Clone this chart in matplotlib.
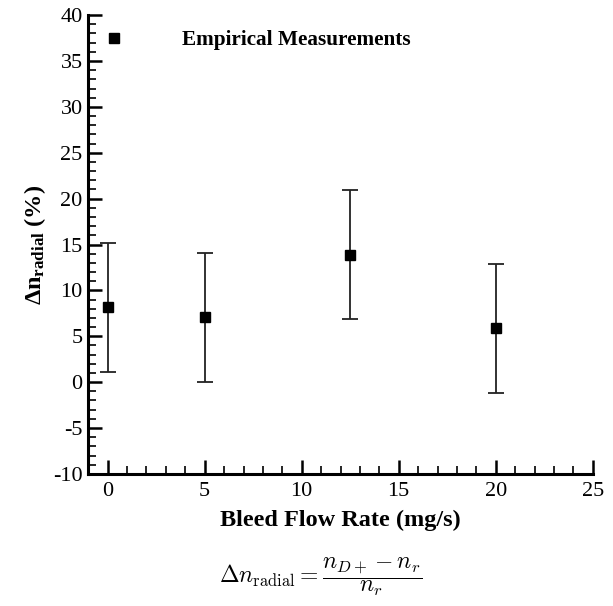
import numpy as np
import matplotlib
matplotlib.use('Agg')
import matplotlib.pyplot as plt
from matplotlib.ticker import MultipleLocator

# data
bleed_rate = [0, 5, 12.5, 20]
delta_n = [8.2, 7.1, 13.9, 5.9]
err_low = [1.1, 0.0, 6.9, -1.2]
err_high = [15.2, 14.1, 20.9, 12.9]
series_label = 'Empirical Measurements'

plt.rcParams['font.family'] = ['Liberation Serif', 'DejaVu Serif']
plt.rcParams['mathtext.fontset'] = 'custom'
plt.rcParams['mathtext.rm'] = 'Liberation Serif'
plt.rcParams['mathtext.it'] = 'Liberation Serif:italic'
plt.rcParams['mathtext.bf'] = 'Liberation Serif:bold'
plt.rcParams['axes.unicode_minus'] = False

fig = plt.figure(figsize=(6.13, 6.06), dpi=100)
ax = fig.add_axes([0.144, 0.218, 0.823, 0.757])

y = np.array(delta_n)
yerr = np.vstack([y - np.array(err_low), np.array(err_high) - y])
ax.errorbar(bleed_rate, delta_n, yerr=yerr, fmt='none', ecolor='#222222',
            elinewidth=1.3, capsize=6, capthick=1.3)
ax.plot(bleed_rate, delta_n, 's', color='black', markersize=7,
        label=series_label, zorder=3)

ax.set_xlim(-1, 25)
ax.set_ylim(-10, 40)
ax.xaxis.set_major_locator(MultipleLocator(5))
ax.xaxis.set_minor_locator(MultipleLocator(1))
ax.yaxis.set_major_locator(MultipleLocator(5))
ax.yaxis.set_minor_locator(MultipleLocator(1))

for side in ['top', 'right']:
    ax.spines[side].set_visible(False)
for side in ['left', 'bottom']:
    ax.spines[side].set_linewidth(2.2)

ax.tick_params(which='major', direction='in', length=10, width=1.8,
               labelsize=16, pad=4)
ax.tick_params(axis='x', which='major', pad=6)
ax.tick_params(which='minor', direction='in', length=6, width=1.2)

ax.set_xlabel('Bleed Flow Rate (mg/s)', fontsize=17.5, fontweight='bold',
              labelpad=6)
ax.set_ylabel(r'$\mathbf{\Delta n_{radial}}$ (%)', fontsize=17.5,
              fontweight='bold', labelpad=4)

ax.legend(loc='upper left', bbox_to_anchor=(0.0, 1.0), frameon=False,
          handlelength=1.0, handletextpad=2.7, borderaxespad=0.3,
          prop={'family': 'Liberation Serif', 'weight': 'bold', 'size': 15.3})

fig.text(0.523, 0.049,
         r'$\Delta n_{\mathrm{radial}} = \dfrac{n_{D+} - n_r}{n_r}$',
         math_fontfamily='cm', fontsize=17, ha='center', va='center')

fig.savefig('out.png', dpi=100)
